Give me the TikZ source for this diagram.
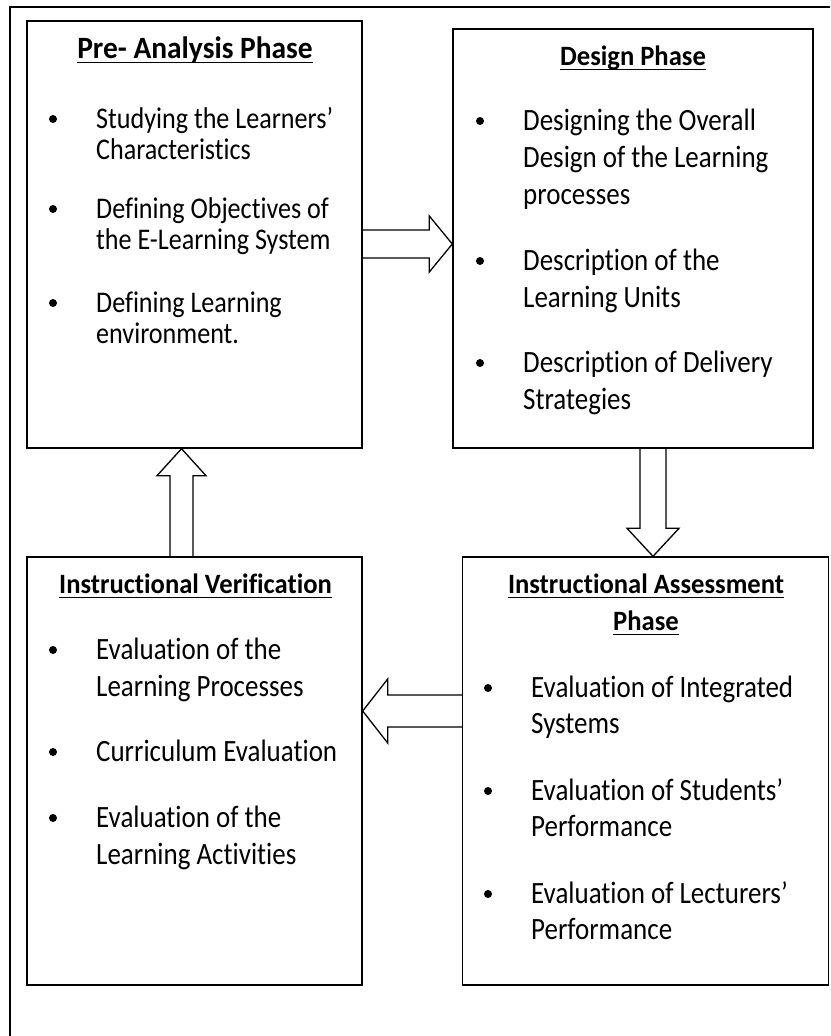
\documentclass[tikz,border=0pt]{standalone}
\usepackage{fontspec}
\usepackage{tikz}
\usetikzlibrary{calc}
\newfontfamily\bodyfont[FakeStretch=0.87,Ligatures=NoCommon]{Carlito}
\newfontfamily\headfont[FakeStretch=0.95,Ligatures=NoCommon]{Carlito}

\begin{document}
\begin{tikzpicture}[x=1pt,y=-1pt,
        phase/.style={draw,line width=1.4pt,inner sep=0pt},
        head/.style={inner sep=0pt,anchor=base,font=\headfont\bfseries\fontsize{#1}{37}\selectfont},
        head/.default=28,
        entry/.style={inner sep=0pt,anchor=base west,align=flush left,text width=300pt,font=\bodyfont\fontsize{31}{#1}\selectfont},
        entry/.default=37,
        uline/.style={line width=1.8pt},
        blockarrow/.style={draw,line width=1.3pt,line join=miter}]
        \useasboundingbox (0,0) rectangle (830,1036);
        \draw[line width=2pt] (830,7) -- (10,7) -- (10,1036);

        \node[phase,minimum width=335pt,minimum height=427pt] (pre) at (194.5,234.5) {};
        \node[phase,minimum width=360pt,minimum height=419pt] (design) at (633,238.5) {};
        \node[phase,minimum width=335pt,minimum height=428pt] (verif) at (194.5,771) {};
        \node[phase,minimum width=366pt,minimum height=428pt] (assess) at (645.5,771) {};

        \node[head=31] (prehead) at (195,58) {Pre- Analysis Phase};
        \node[head] (designhead) at (633,65) {Design Phase};
        \node[head] (verifhead) at (195.5,593) {Instructional Verification};
        \node[head] (assesshead) at (646,593) {Instructional Assessment};
        \node[head] (assesshead2) at (646,630) {Phase};
        \draw[uline] ($(prehead.base west)+(0,4.5)$) -- ($(prehead.base east)+(0,4.5)$);
        \draw[uline] ($(designhead.base west)+(0,4.5)$) -- ($(designhead.base east)+(0,4.5)$);
        \draw[uline] ($(verifhead.base west)+(0,4.5)$) -- ($(verifhead.base east)+(0,4.5)$);
        \draw[uline] ($(assesshead.base west)+(0,4.5)$) -- ($(assesshead.base east)+(0,4.5)$);
        \draw[uline] ($(assesshead2.base west)+(0,4.5)$) -- ($(assesshead2.base east)+(0,4.5)$);

        \node[entry=31,font=\bodyfont\fontsize{30}{31}\selectfont] (pre1) at (96,128) {Studying the Learners’\\Characteristics};
        \node[entry=31,font=\bodyfont\fontsize{30}{31}\selectfont] (pre2) at (96,218) {Defining Objectives of\\the E-Learning System};
        \node[entry=31,font=\bodyfont\fontsize{30}{31}\selectfont] (pre3) at (96,312) {Defining Learning\\environment.};
        \fill (53,119) circle (4pt);
        \fill (53,209) circle (4pt);
        \fill (53,303) circle (4pt);

        \node[entry] (design1) at (523,130) {Designing the Overall\\Design of the Learning\\processes};
        \node[entry] (design2) at (523,270) {Description of the\\Learning Units};
        \node[entry] (design3) at (523,372) {Description of Delivery\\Strategies};
        \fill (480,121) circle (4pt);
        \fill (480,261) circle (4pt);
        \fill (480,363) circle (4pt);

        \node[entry] (verif1) at (96,659) {Evaluation of the\\Learning Processes};
        \node[entry] (verif2) at (96,761) {Curriculum Evaluation};
        \node[entry] (verif3) at (96,827) {Evaluation of the\\Learning Activities};
        \fill (53,650) circle (4pt);
        \fill (53,752) circle (4pt);
        \fill (53,818) circle (4pt);

        \node[entry=36.5] (assess1) at (531,697) {Evaluation of Integrated\\Systems};
        \node[entry=36.5] (assess2) at (531,800) {Evaluation of Students’\\Performance};
        \node[entry=36.5] (assess3) at (531,903) {Evaluation of Lecturers’\\Performance};
        \fill (488,688) circle (4pt);
        \fill (488,791) circle (4pt);
        \fill (488,894) circle (4pt);

        \coordinate (r1) at ($(pre.east)+(0,9.5)$);
        \coordinate (r2) at (r1 -| design.west);
        \draw[blockarrow] ($(r1)+(0,-14)$) -- ($(r2)+(-23,-14)$) -- ($(r2)+(-23,-28)$) -- (r2) -- ($(r2)+(-23,28)$) -- ($(r2)+(-23,14)$) -- ($(r1)+(0,14)$);
        \coordinate (d1) at ($(design.south)+(20,0)$);
        \coordinate (d2) at (d1 |- assess.north);
        \draw[blockarrow] ($(d1)+(-13,0)$) -- ($(d2)+(-13,-28)$) -- ($(d2)+(-26,-28)$) -- (d2) -- ($(d2)+(26,-28)$) -- ($(d2)+(13,-28)$) -- ($(d1)+(13,0)$);
        \coordinate (l1) at ($(assess.west)+(0,-60)$);
        \coordinate (l2) at (l1 -| verif.east);
        \draw[blockarrow] ($(l1)+(0,-16)$) -- ($(l2)+(25,-16)$) -- ($(l2)+(25,-32)$) -- (l2) -- ($(l2)+(25,32)$) -- ($(l2)+(25,16)$) -- ($(l1)+(0,16)$);
        \coordinate (u1) at ($(verif.north)+(-13,0)$);
        \coordinate (u2) at (u1 |- pre.south);
        \draw[blockarrow] ($(u1)+(-11.5,0)$) -- ($(u2)+(-11.5,27)$) -- ($(u2)+(-24.5,27)$) -- (u2) -- ($(u2)+(24.5,27)$) -- ($(u2)+(11.5,27)$) -- ($(u1)+(11.5,0)$);
    \end{tikzpicture}
\end{document}
